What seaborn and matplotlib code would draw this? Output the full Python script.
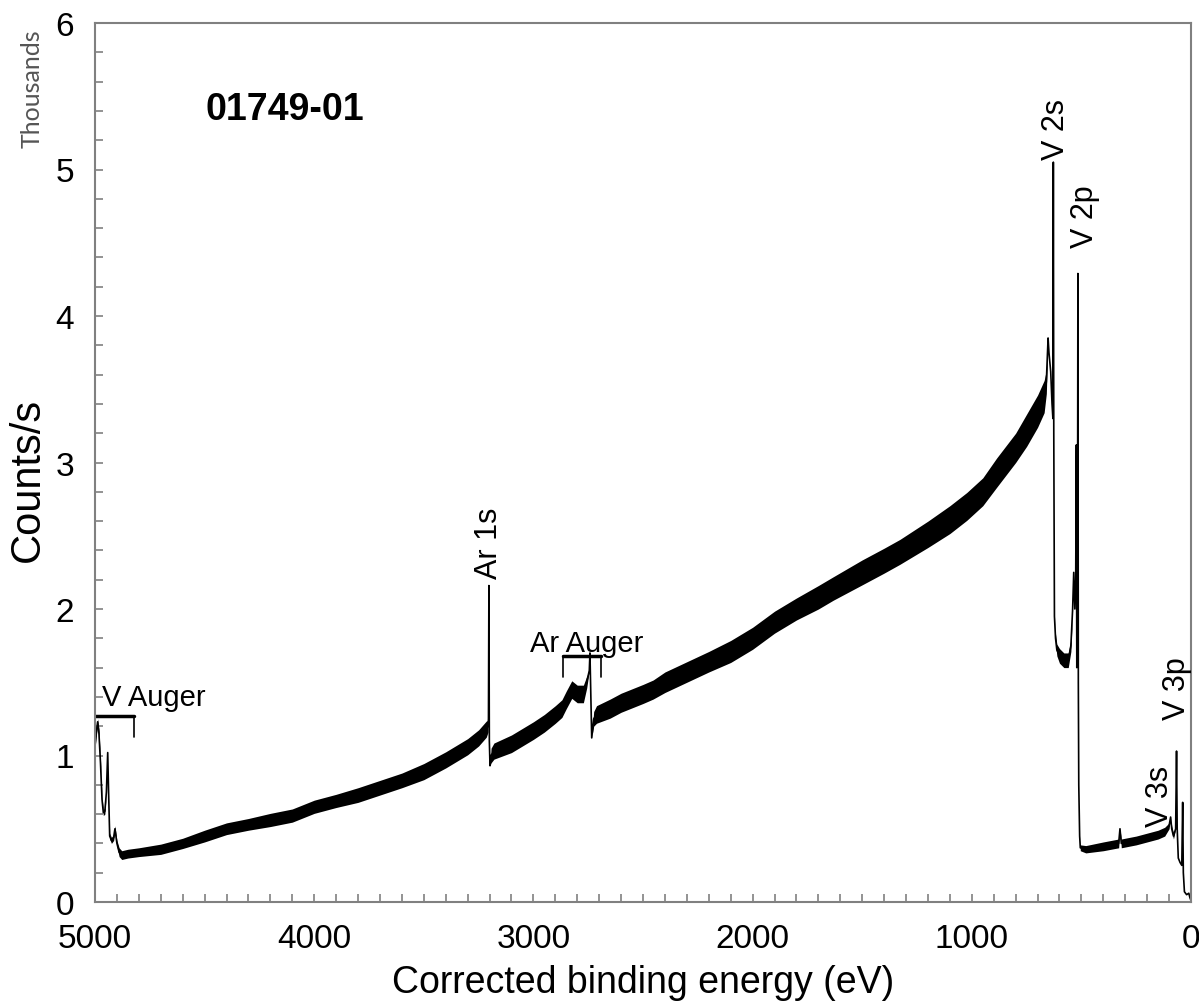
import matplotlib
matplotlib.use("Agg")
import matplotlib.pyplot as plt
import seaborn as sns
import pandas as pd
import numpy as np

# ---------------- data ----------------
energy_ev = [5000, 4995, 4988, 4982, 4975, 4968, 4962, 4955, 4948, 4942, 4938, 4933,
             4925, 4915, 4909, 4900, 4890, 4878, 4850, 4800, 4700, 4600, 4500, 4400,
             4300, 4200, 4100, 4000, 3900, 3800, 3700, 3600, 3500, 3400, 3300, 3250,
             3215, 3207, 3205, 3203, 3201, 3198, 3193, 3180, 3100, 3000, 2950, 2900,
             2870, 2850, 2825, 2800, 2772, 2757, 2745, 2742, 2738, 2734, 2725, 2712,
             2650, 2600, 2500, 2454, 2400, 2300, 2200, 2100, 2000, 1900, 1800, 1700,
             1632, 1500, 1400, 1328, 1200, 1100, 1023, 950, 887, 800, 750, 700,
             670, 660, 652, 648, 640, 634, 630, 628, 626, 623, 618, 612, 600, 580,
             560, 548, 540, 535, 530, 526, 523, 521, 518, 516, 514, 512, 508, 505,
             480, 400, 330, 324, 318, 250, 200, 150, 120, 100, 93, 88, 80, 70, 66,
             63, 58, 50, 42, 38, 35, 30, 20, 10, 5, 0]
counts_k = [1.07, 1.15, 1.23, 1.15, 0.95, 0.70, 0.61, 0.62, 0.75, 1.02, 0.75, 0.45,
            0.42, 0.44, 0.50, 0.40, 0.34, 0.32, 0.33, 0.34, 0.36, 0.40, 0.45, 0.50,
            0.53, 0.56, 0.59, 0.65, 0.69, 0.73, 0.78, 0.83, 0.89, 0.97, 1.06, 1.12,
            1.18, 1.20, 1.25, 2.16, 1.10, 0.93, 1.00, 1.03, 1.08, 1.17, 1.22, 1.28,
            1.32, 1.38, 1.45, 1.42, 1.42, 1.50, 1.58, 1.70, 1.40, 1.12, 1.25, 1.28,
            1.32, 1.36, 1.42, 1.45, 1.50, 1.57, 1.64, 1.71, 1.80, 1.91, 2.00, 2.08,
            2.14, 2.25, 2.33, 2.39, 2.51, 2.61, 2.70, 2.80, 2.93, 3.10, 3.22, 3.35,
            3.45, 3.55, 3.85, 3.75, 3.62, 3.40, 3.30, 5.05, 3.20, 1.95, 1.80, 1.72,
            1.68, 1.65, 1.65, 1.75, 2.00, 2.25, 2.00, 2.20, 3.12, 1.60, 2.00, 4.29,
            1.50, 0.80, 0.45, 0.37, 0.36, 0.38, 0.40, 0.50, 0.40, 0.42, 0.44, 0.46,
            0.48, 0.52, 0.58, 0.50, 0.45, 0.50, 1.03, 0.50, 0.30, 0.27, 0.25, 0.68,
            0.20, 0.07, 0.05, 0.06, 0.03, 0.01]
noise_k = [0.03, 0.03, 0.02, 0.03, 0.02, 0.02, 0.02, 0.02, 0.0, 0.0, 0.0, 0.02,
           0.02, 0.02, 0.02, 0.02, 0.03, 0.03, 0.03, 0.03, 0.035, 0.035, 0.04, 0.04,
           0.04, 0.045, 0.045, 0.045, 0.045, 0.05, 0.05, 0.05, 0.055, 0.055, 0.055, 0.055,
           0.055, 0.04, 0.0, 0.0, 0.0, 0.0, 0.05, 0.055, 0.06, 0.06, 0.06, 0.06,
           0.06, 0.06, 0.06, 0.06, 0.06, 0.04, 0.0, 0.0, 0.0, 0.0, 0.05, 0.06,
           0.065, 0.065, 0.065, 0.065, 0.07, 0.07, 0.07, 0.075, 0.075, 0.075, 0.075, 0.08,
           0.08, 0.085, 0.085, 0.085, 0.09, 0.095, 0.095, 0.095, 0.1, 0.1, 0.11, 0.11,
           0.11, 0.08, 0.0, 0.0, 0.0, 0.0, 0.0, 0.0, 0.0, 0.0, 0.03, 0.04,
           0.05, 0.05, 0.05, 0.04, 0.0, 0.0, 0.0, 0.0, 0.0, 0.0, 0.0, 0.0,
           0.0, 0.0, 0.0, 0.02, 0.025, 0.03, 0.03, 0.0, 0.03, 0.03, 0.03, 0.03,
           0.03, 0.02, 0.0, 0.02, 0.02, 0.0, 0.0, 0.0, 0.0, 0.0, 0.0, 0.0,
           0.0, 0.0, 0.0, 0.0, 0.0, 0.0]

peak_labels = ["Ar 1s", "V 2s", "V 2p", "V 3s", "V 3p"]
peak_label_x = [3203, 615, 484, 141, 66]
peak_label_y = [2.21, 5.07, 4.47, 0.52, 1.25]

bracket_labels = ["V Auger", "Ar Auger"]
bracket_lo = [5000, 2865]
bracket_hi = [4822, 2690]
bracket_y = [1.267, 1.68]
bracket_drop = [1.126, 1.535]
bracket_text_x = [4969, 2757]
bracket_text_y = [1.40, 1.77]
bracket_text_ha = ["left", "center"]

sample_name = "01749-01"

x_major = [5000, 4000, 3000, 2000, 1000, 0]
y_major = [0, 1, 2, 3, 4, 5, 6]

# ---------------- plotting ----------------
sns.set_theme(style="white")
plt.rcParams['font.family'] = ['Liberation Sans', 'DejaVu Sans']
plt.rcParams['text.color'] = 'black'
plt.rcParams['axes.labelcolor'] = 'black'
plt.rcParams['xtick.labelcolor'] = 'black'
plt.rcParams['ytick.labelcolor'] = 'black'

fig = plt.figure(figsize=(11.99, 10.03), dpi=100)
ax = fig.add_axes([95 / 1199, 1 - 903 / 1003, (1191 - 95) / 1199, (903 - 24) / 1003])

df = pd.DataFrame({"energy": energy_ev, "counts": counts_k})
lo = [c - n for c, n in zip(counts_k, noise_k)]
hi = [c + n for c, n in zip(counts_k, noise_k)]
ax.fill_between(energy_ev, lo, hi, color="black", linewidth=0)
sns.lineplot(data=df, x="energy", y="counts", ax=ax, color="black",
             linewidth=1.2, sort=False, estimator=None)

ax.set_xlim(5000, 0)
ax.set_ylim(0, 6)
ax.set_xticks(x_major)
ax.set_xticks(np.arange(0, 5001, 100), minor=True)
ax.set_yticks(y_major)
ax.set_yticks(np.arange(0, 6.01, 0.2), minor=True)
ax.set_xticklabels([str(v) for v in x_major], fontsize=24)
ax.set_yticklabels([str(v) for v in y_major], fontsize=24)
ax.tick_params(axis="both", which="both", direction="in", color="#808080",
               labelcolor="black", length=6, width=1.2, bottom=True, left=True)
ax.tick_params(axis="y", which="major", pad=15)
ax.tick_params(axis="x", which="major", pad=15)
for s in ax.spines.values():
    s.set_color("#808080")
    s.set_linewidth(1.5)

ax.set_xlabel("Corrected binding energy (eV)", fontsize=27, color="black")
ax.set_ylabel("Counts/s", fontsize=30, color="black")
ax.xaxis.label.set_va("center")
ax.yaxis.label.set_va("center")
ax.xaxis.set_label_coords(0.5, (903 - 983) / 879)
ax.yaxis.set_label_coords((28 - 95) / 1096, (903 - 480) / 879)

fig.text(32 / 1199, 1 - 89 / 1003, "Thousands", rotation=90, ha="center",
         va="center", fontsize=18, color="#555555", family=["Lato", "DejaVu Sans"])

ax.text(4498, 5.41, sample_name, fontsize=27, fontweight="bold", ha="left",
        va="center", color="black")

for lab, x, y in zip(peak_labels, peak_label_x, peak_label_y):
    ax.text(x, y, lab, rotation=90, ha="center", va="bottom", fontsize=22, color="black")

for lab, a, b, y, d, tx, ty, tha in zip(bracket_labels, bracket_lo, bracket_hi, bracket_y,
                                        bracket_drop, bracket_text_x, bracket_text_y,
                                        bracket_text_ha):
    ax.plot([a, a, b, b], [d, y, y, d], color="black", linewidth=1.2)
    ax.plot([a, b], [y, y], color="black", linewidth=2.5)
    ax.text(tx, ty, lab, ha=tha, va="center", fontsize=21, color="black")

fig.savefig("out.png", dpi=100)
